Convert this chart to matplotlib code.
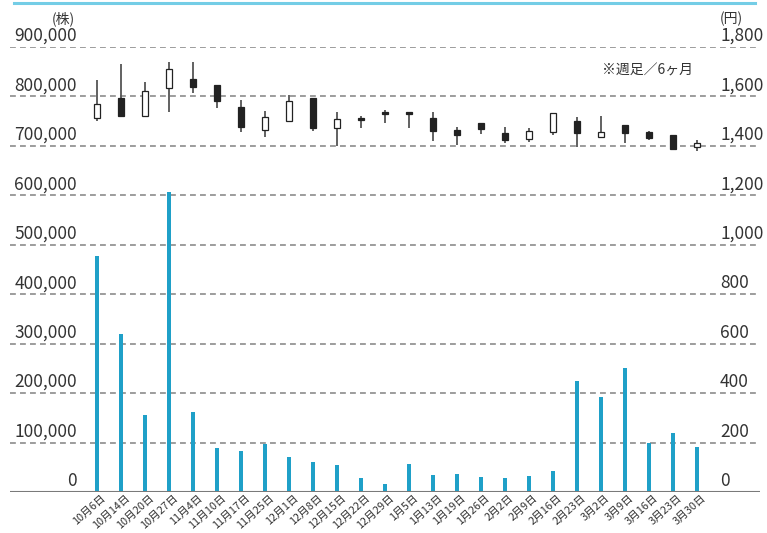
import matplotlib
matplotlib.use('Agg')
import matplotlib.pyplot as plt
import matplotlib.transforms as mtransforms
import numpy as np

plt.rcParams['font.family'] = ['Noto Sans CJK JP', 'DejaVu Sans']

# 週足データ（6ヶ月）
dates = ['10月6日', '10月14日', '10月20日', '10月27日', '11月4日', '11月10日',
         '11月17日', '11月25日', '12月1日', '12月8日', '12月15日', '12月22日',
         '12月29日', '1月5日', '1月13日', '1月19日', '1月26日', '2月2日',
         '2月9日', '2月16日', '2月23日', '3月2日', '3月9日', '3月16日',
         '3月23日', '3月30日']

volume = [478000, 320000, 156000, 607000, 162000, 89000,
          83000, 97000, 71000, 61000, 55000, 28000,
          16000, 57000, 34000, 36000, 30000, 28000,
          32000, 42000, 225000, 192000, 251000, 99000,
          119000, 91000]

price_open = [1512, 1593, 1522, 1636, 1671, 1646, 1556, 1464, 1501, 1593, 1471, 1512, 1536,
              1536, 1514, 1464, 1491, 1453, 1427, 1458, 1501, 1437, 1485, 1458, 1444, 1394]
price_close = [1570, 1522, 1622, 1710, 1640, 1582, 1478, 1518, 1583, 1471, 1508, 1505, 1530,
               1531, 1460, 1444, 1470, 1424, 1462, 1532, 1453, 1455, 1453, 1431, 1386, 1413]
price_high = [1667, 1730, 1660, 1738, 1738, 1646, 1586, 1541, 1606, 1593, 1536, 1521, 1545,
              1536, 1536, 1476, 1491, 1478, 1471, 1532, 1518, 1521, 1485, 1460, 1444, 1424]
price_low = [1502, 1522, 1522, 1536, 1613, 1552, 1455, 1437, 1501, 1462, 1400, 1474, 1494,
             1474, 1421, 1402, 1448, 1411, 1417, 1444, 1397, 1437, 1411, 1424, 1383, 1381]

vol_ticks = np.arange(0, 900001, 100000)
price_ticks = np.arange(0, 1801, 200)

W, H = 767, 533
fig = plt.figure(figsize=(W / 100, H / 100), dpi=100)
left, right, top, bottom = 10, 760, 47, 492
ax = fig.add_axes([left / W, 1 - bottom / H, (right - left) / W, (bottom - top) / H])
ax2 = ax.twinx()

x = np.arange(len(dates))
ax.set_xlim(-3.625, 27.625)
ax.set_ylim(0, 900000)
ax2.set_ylim(0, 1800)

for a in (ax, ax2):
    for s in a.spines.values():
        s.set_visible(False)
    a.set_yticks([])
    a.tick_params(length=0)

# 目盛り線
for v in vol_ticks[1:]:
    ax.axhline(v, color='#8c8c8c', lw=1.2, ls=(0, (3.5, 2.5)), zorder=0)
ax.axhline(0, color='#7a7a7a', lw=1.5, zorder=3)

# 出来高
ax.bar(x, volume, width=0.17, color='#1fa0c8', zorder=2)

# ローソク足
ax2.vlines(x, price_low, price_high, color='#555555', lw=1.3, zorder=3)
for i in range(len(dates)):
    o, c = price_open[i], price_close[i]
    up = c >= o
    ax2.bar(i, max(abs(c - o), 3), bottom=min(o, c), width=0.22,
            color='white' if up else '#222222', edgecolor='#222222',
            linewidth=0.9, zorder=4)

# 目盛りラベル
for v, p in zip(vol_ticks, price_ticks):
    ypos = 1 - (bottom - 2 - (bottom - top) * v / 900000) / H
    ax.text(77 / W, ypos, f'{v:,}', transform=fig.transFigure, ha='right', va='bottom',
            fontsize=12.5, color='#333333')
    ax.text(720 / W, ypos, f'{p:,}', transform=fig.transFigure, ha='left', va='bottom',
            fontsize=12.5, color='#333333')

fig.text(63 / W, 1 - 19 / H, '(株)', ha='center', va='center', fontsize=10, color='#333333')
fig.text(731 / W, 1 - 19 / H, '(円)', ha='center', va='center', fontsize=10, color='#333333')
fig.text(648 / W, 1 - 71 / H, '※週足／6ヶ月', ha='center', va='center', fontsize=10, color='#333333')

ax.set_xticks(x)
ax.set_xticklabels(dates, rotation=42, ha='right', va='top',
                   rotation_mode='anchor', fontsize=7.8, color='#333333')
ax.tick_params(axis='x', pad=0.5)
shift = mtransforms.ScaledTranslation(4 / 100, 0, fig.dpi_scale_trans)
for lab in ax.get_xticklabels():
    lab.set_transform(lab.get_transform() + shift)

# 上部の水色ライン
fig.add_artist(plt.Line2D([14 / W, 755 / W], [1 - 3 / H, 1 - 3 / H],
                          color='#74cde6', lw=2.2, transform=fig.transFigure))

fig.savefig('out.png', dpi=100, facecolor='white')
